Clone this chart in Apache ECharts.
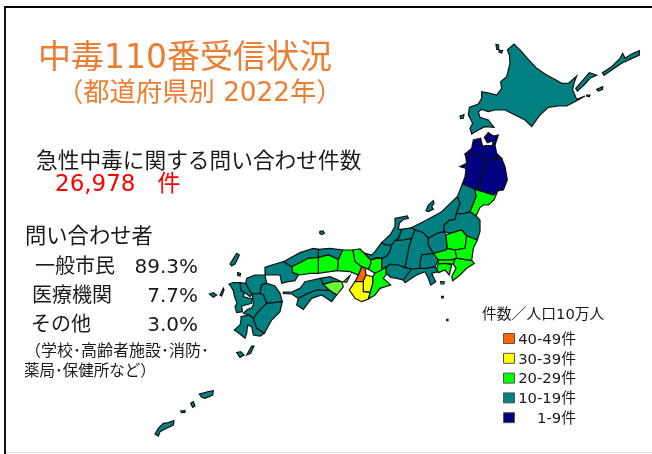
<!DOCTYPE html>
<html>
<head>
<meta charset="utf-8">
<script src="https://cdn.jsdelivr.net/npm/echarts@6/dist/echarts.min.js"></script>
<style>
html, body { margin: 0; padding: 0; background: #fff; }
#chart-panel { width: 652px; height: 454px; }
</style>
</head>
<body>
<div id="chart-panel"></div>
<script>
// 人口10万人あたり件数 (only the colour class can be read from the map, values are estimates)
const prefNames = ['北海道', '青森', '岩手', '秋田', '宮城', '山形', '福島', '新潟', '富山', '石川', '福井', '長野', '岐阜', '愛知', '静岡', '山梨', '群馬', '栃木', '茨城', '埼玉', '東京', '神奈川', '千葉', '滋賀', '三重', '京都', '大阪', '奈良', '和歌山', '兵庫', '鳥取', '島根', '岡山', '広島', '山口', '香川', '愛媛', '徳島', '高知', '福岡', '佐賀', '長崎', '大分', '熊本', '宮崎', '鹿児島', '沖縄']
const prefValues = [16, 8, 8, 7, 21, 15, 16, 15, 16, 17, 18, 17, 18, 19, 18, 17, 18, 21, 22, 24, 26, 25, 23, 22, 23, 24, 42, 33, 35, 25, 17, 16, 22, 21, 15, 17, 15, 28, 14, 17, 14, 13, 15, 14, 13, 12, 11]

const legendLabels = ['40-49件', '30-39件', '20-29件', '10-19件', '1-9件']
const legendMins = [40, 30, 20, 10, 1]
const legendColors = ['#ff6600', '#ffff00', '#00ff00', '#008080', '#000080']

const contactLabels = ['一般市民', '医療機関', 'その他']
const contactShares = ['89.3%', '7.7%', '3.0%']

// outlines, one frame per crop: [originX, originY], points are 3x
const H = [430, 30]
const E = [370, 170]
const W = [280, 230]
const K = [140, 240]
const Q = [225, 270]

const prefShapes = {
  '北海道': [H, [232,60,252,42,272,62,295,88,320,115,350,135,378,150,395,160,415,160,440,138,432,160,428,180,440,208,465,198,440,212,410,228,385,228,355,232,330,255,305,290,285,270,255,255,225,240,195,240,175,245,155,238,145,245,150,262,175,270,192,292,165,290,145,300,125,312,120,295,128,280,115,255,118,232,145,222,155,205,155,185,180,190,200,195,215,175,212,155,230,140,240,100,238,75],
    [198,43,206,45,206,60,200,58], [208,60,218,62,215,69,207,66], [90,258,102,254,100,265,92,266],
    [517,128,545,110,570,85,578,70,585,85,605,72,628,62,628,75,600,88,575,100,545,120,522,136],
    [437,175,455,155,478,128,500,135,480,145,462,165,442,183], [500,178,518,170,518,178,505,183], [470,195,480,195,478,200,470,198]],
  '青森': [H, [105,372,125,355,130,330,152,325,158,350,163,347,187,347,190,332,172,338,163,322,175,308,190,318,205,315,195,345,200,370,215,385,165,392,160,378]],
  '秋田': [H, [105,372,160,378,165,392,148,465,135,478,97,462,105,440,108,415,90,410,110,400,108,385]],
  '岩手': [H, [165,392,215,385,225,410,232,450,220,480,205,482,190,495,165,487,135,478,148,465]],
  '宮城': [E, [315,58,345,67,370,75,382,66,372,90,355,105,340,105,330,112,318,138,300,125,310,100,318,80]],
  '山形': [E, [277,42,315,58,318,80,310,100,300,125,285,130,258,132,270,100,262,80]],
  '福島': [E, [258,132,285,130,300,125,318,138,330,150,330,185,322,210,290,198,275,180,240,190,222,185,222,165,238,150,255,148]],
  '新潟': [E, [262,80,270,100,258,132,255,148,238,150,222,165,222,185,202,190,175,205,160,188,135,180,125,173,170,150,215,125],
    [168,122,175,105,190,92,192,100,185,110,190,118,175,125]],
  '石川': [E, [75,145,112,138,115,145,100,148,88,160,85,178,95,178,85,205,75,212,65,225,45,225,35,218,60,195,75,170]],
  '富山': [E, [95,178,125,173,135,180,125,205,100,210,75,212,85,205]],
  '福井': [E, [-15,250,5,255,15,245,35,218,45,225,65,225,60,245,50,258,35,265,20,262,2,270]],
  '長野': [E, [125,205,135,180,160,188,175,205,175,225,190,250,155,255,150,280,150,295,125,297,105,293,118,225]],
  '岐阜': [E, [75,212,100,210,125,205,118,225,105,293,85,285,60,283,48,292,35,300,35,265,50,258,60,245,65,225]],
  '愛知': [E, [48,292,60,283,85,285,105,293,125,297,100,330,80,325,62,322,50,312]],
  '静岡': [E, [125,297,150,295,165,295,195,290,205,305,185,310,197,335,182,345,175,325,165,305,140,315,105,338,100,330]],
  '山梨': [E, [155,255,190,250,205,270,195,290,165,295,150,295,150,280]],
  '群馬': [E, [175,205,202,190,222,185,228,195,232,235,228,240,190,250,175,225]],
  '栃木': [E, [228,195,240,190,275,180,290,198,285,235,255,240,232,235]],
  '茨城': [E, [290,198,322,210,310,235,305,272,260,265,255,240,285,235]],
  '埼玉': [E, [190,250,228,240,232,235,255,240,260,265,240,270,205,270]],
  '東京': [E, [205,270,240,270,255,268,250,282,225,280,205,282], [212,335,222,335,222,342,213,342], [215,379,220,379,220,384,215,384], [230,448,234,448,234,452,230,452]],
  '神奈川': [E, [205,282,225,280,245,285,240,305,238,315,225,300,205,308,200,295]],
  '千葉': [E, [255,268,260,265,305,272,313,280,290,295,270,315,248,332,245,320,258,295,250,282]],
  '滋賀': [W, [272,90,290,85,305,85,305,120,285,130,265,118,272,100]],
  '三重': [W, [285,130,305,120,318,110,318,135,310,145,332,165,300,175,285,195,265,207,270,187,278,160,278,140]],
  '京都': [W, [218,60,240,57,255,72,272,90,272,100,265,118,245,110,225,95]],
  '大阪': [W, [245,110,255,115,258,135,250,155,225,155,235,135]],
  '奈良': [W, [258,135,278,140,278,160,270,187,250,185,248,157,250,155]],
  '和歌山': [W, [225,155,250,155,248,157,250,185,270,187,265,207,245,215,225,205,208,180]],
  '兵庫': [W, [188,60,218,60,225,95,245,110,235,135,210,125,172,122,175,88], [190,155,210,137,212,140,200,157]],
  '鳥取': [W, [115,58,150,55,188,60,175,88,145,75,115,82]],
  '島根': [W, [10,95,60,68,100,55,115,58,115,82,85,85,60,98,35,110], [120,3,130,3,133,10,125,14,119,10]],
  '岡山': [W, [115,82,145,75,175,88,172,122,150,125,115,130]],
  '広島': [W, [35,110,60,98,85,85,115,82,115,130,90,130,60,135,38,128]],
  '山口': [W, [-45,112,-25,105,10,95,35,110,38,128,55,135,45,152,25,155,5,160,0,135,-45,135]],
  '香川': [W, [120,145,150,140,185,155,160,155,130,163]],
  '愛媛': [W, [10,186,35,186,60,175,75,155,120,145,130,163,150,182,110,180,85,190,55,205,35,192,10,190]],
  '徳島': [W, [130,163,160,155,185,155,190,170,170,195,150,182]],
  '高知': [W, [55,205,85,190,110,180,150,182,170,195,155,215,125,195,95,205,70,238,50,225]],
  '福岡': [Q, [65,25,90,15,120,15,125,40,110,45,105,70,80,72,70,55,62,40]],
  '佐賀': [Q, [45,38,62,40,70,55,80,72,75,80,60,68,48,62]],
  '長崎': [Q, [12,42,25,38,45,38,48,62,58,68,55,80,72,85,82,85,80,100,62,105,50,108,52,125,35,128,30,110,36,100,28,78,25,62,18,50]],
  '大分': [Q, [125,40,150,48,165,70,172,95,125,100,115,75,105,70,110,45]],
  '熊本': [Q, [80,72,105,70,115,75,125,100,100,125,85,145,72,135,55,130,68,118,78,115,85,105,84,85]],
  '宮崎': [Q, [125,100,172,95,165,125,140,150,118,190,95,175,85,145,100,125]],
  '鹿児島': [Q, [48,140,72,135,85,145,95,175,118,190,105,198,85,195,80,170,68,165,65,190,60,205,42,190,28,180,45,165,48,150]],
  '沖縄': [K, [45,582,55,565,70,550,85,548,102,542,100,555,80,565,60,575,55,588]]
}

// islands, traced in the wider Kyushu crop
const kyushuIslands = {
  '長崎': [[270,72,290,40,298,45,285,72,275,78], [293,98,302,100,300,108,293,106], [208,162,220,158,230,165,220,172], [240,165,250,145,252,150,245,168]],
  '鹿児島': [[320,345,335,318,342,318,332,340], [290,338,302,335,312,345,300,352], [178,462,205,455,220,452,218,465,195,475,185,472], [152,490,160,485,165,498,158,502], [122,513,135,511,135,517,125,518]]
}

function toRing(frame, flat) {
  const ring = []
  for (let i = 0; i < flat.length; i += 2) {
    ring.push([frame[0] + flat[i] / 3, frame[1] + flat[i + 1] / 3])
  }
  ring.push(ring[0])
  return [ring]
}

const features = prefNames.map(function (name) {
  const shape = prefShapes[name]
  const polys = shape.slice(1).map(function (p) { return toRing(shape[0], p) })
  ;(kyushuIslands[name] || []).forEach(function (p) { polys.push(toRing(K, p)) })
  return {
    type: 'Feature',
    properties: { name: name },
    geometry: { type: 'MultiPolygon', coordinates: polys }
  }
})
echarts.registerMap('japan-pref', { type: 'FeatureCollection', features: features })

function classColor(v) {
  for (let i = 0; i < legendMins.length; i++) {
    if (v >= legendMins[i]) return legendColors[i]
  }
  return '#fff'
}

const mapData = prefNames.map(function (name, i) {
  // 徳島 is a slightly paler green in the reference
  const color = name === '徳島' ? '#66ff33' : classColor(prefValues[i])
  return { name: name, value: prefValues[i], itemStyle: { areaColor: color } }
})

const FONT = '"DejaVu Sans", "Noto Sans CJK JP", sans-serif'

function txt(x, y, text, size, color, align) {
  return {
    type: 'text', x: x, y: y, silent: true,
    style: { text: text, fontSize: size, fontFamily: FONT, fill: color || '#1a1a1a', align: align || 'left', verticalAlign: 'middle' }
  }
}

const graphics = [
  { type: 'line', shape: { x1: 4, y1: 7, x2: 652, y2: 7 }, style: { stroke: '#000', lineWidth: 2 } },
  { type: 'line', shape: { x1: 5, y1: 6, x2: 5, y2: 454 }, style: { stroke: '#111', lineWidth: 2 } },
  { type: 'line', shape: { x1: 6, y1: 452.5, x2: 652, y2: 452.5 }, style: { stroke: '#ddd', lineWidth: 1 } },
  txt(38, 59, '中毒110番受信状況', 33, '#ed7d31'),
  txt(57, 94, '（都道府県別 2022年）', 26.3, '#ed7d31'),
  txt(36, 162, '急性中毒に関する問い合わせ件数', 21.7),
  txt(55, 185, '26,978   件', 23, '#ff0000'),
  txt(25, 237, '問い合わせ者', 21.3),
  txt(25, 352, '（学校･高齢者施設･消防･', 16),
  txt(24, 372, '薬局･保健所など）', 15.5),
  txt(482, 315, '件数／人口10万人', 14.8)
]

const contactX = [35, 32, 31]
contactLabels.forEach(function (label, i) {
  graphics.push(txt(contactX[i], 268 + i * 29, label, 20))
  graphics.push(txt(198, 268 + i * 29, contactShares[i], 20, '#1a1a1a', 'right'))
})

legendLabels.forEach(function (label, i) {
  const y = 333 + i * 19.8
  graphics.push({
    type: 'rect', silent: true,
    shape: { x: 503.5, y: y + 0.5, width: 11, height: 10 },
    style: { fill: legendColors[i], stroke: '#555', lineWidth: 1 }
  })
  graphics.push(txt(576, y + 7, label, 14.8, '#1a1a1a', 'right'))
})

const myChart = echarts.init(document.getElementById('chart-panel'))

const option = {
  backgroundColor: '#fff',
  animation: false,
  series: [{
    type: 'map',
    map: 'japan-pref',
    projection: {
      project: function (p) { return p },
      unproject: function (p) { return p }
    },
    boundingCoords: [[0, 0], [652, 454]],
    left: 0,
    top: 0,
    width: 652,
    height: 454,
    roam: false,
    silent: true,
    label: { show: false },
    itemStyle: { borderColor: '#111', borderWidth: 1.2 },
    data: mapData
  }],
  graphic: graphics
}

myChart.setOption(option)
</script>
</body>
</html>
